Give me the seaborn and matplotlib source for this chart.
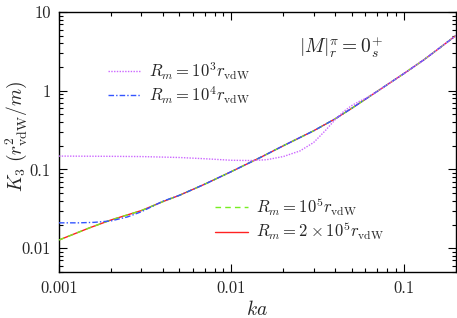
"""
Three-body recombination rate K3 vs ka for several cutoff radii R_m
"""
import numpy as np
import pandas as pd
import matplotlib
matplotlib.use("Agg")
import matplotlib.pyplot as plt
import seaborn as sns
from matplotlib.ticker import FixedLocator, FixedFormatter, LogLocator, NullFormatter

# values
ka_main = [0.001, 0.0015, 0.002, 0.003, 0.004, 0.005, 0.007, 0.01, 0.015, 0.02,
           0.03, 0.04, 0.05, 0.07, 0.1, 0.13, 0.16, 0.2]
k3_main = [0.0127, 0.0181, 0.0228, 0.030, 0.039, 0.047, 0.065, 0.094, 0.145, 0.20,
           0.31, 0.44, 0.60, 0.98, 1.65, 2.45, 3.45, 5.0]

ka_1e3 = [0.001, 0.002, 0.003, 0.005, 0.007, 0.01, 0.013, 0.016, 0.02, 0.025,
          0.03, 0.035, 0.04, 0.045, 0.05, 0.055, 0.06, 0.07, 0.1, 0.13, 0.16, 0.2]
k3_1e3 = [0.148, 0.147, 0.146, 0.142, 0.137, 0.131, 0.130, 0.133, 0.146, 0.172,
          0.22, 0.31, 0.43, 0.55, 0.65, 0.73, 0.80, 0.98, 1.65, 2.45, 3.45, 5.0]

ka_1e4 = [0.001, 0.0013, 0.0016, 0.002, 0.0025, 0.003, 0.004, 0.005, 0.007, 0.01,
          0.015, 0.02, 0.03, 0.04, 0.05, 0.07, 0.1, 0.13, 0.16, 0.2]
k3_1e4 = [0.0210, 0.0210, 0.0213, 0.0222, 0.0250, 0.0290, 0.0395, 0.047, 0.065, 0.094,
          0.145, 0.20, 0.31, 0.44, 0.60, 0.98, 1.65, 2.45, 3.45, 5.0]

labels = [r"$R_m = 10^3 r_{\rm vdW}$", r"$R_m = 10^4 r_{\rm vdW}$",
          r"$R_m = 10^5 r_{\rm vdW}$", r"$R_m = 2\times10^5 r_{\rm vdW}$"]

x_ticks = [0.001, 0.01, 0.1]
x_tick_labels = ["0.001", "0.01", "0.1"]
y_ticks = [0.01, 0.1, 1, 10]
y_tick_labels = ["0.01", "0.1", "1", "10"]

sns.set_style("ticks")
plt.rcParams["font.family"] = ["cmr10", "DejaVu Serif"]
plt.rcParams["mathtext.fontset"] = "cm"
plt.rcParams["axes.formatter.use_mathtext"] = True
plt.rcParams["xtick.direction"] = "in"
plt.rcParams["ytick.direction"] = "in"

fig = plt.figure(figsize=(4.57, 3.18), dpi=100)
ax = fig.add_axes([0.129, 0.145, 0.868, 0.817])

styles = [
    (ka_1e3, k3_1e3, "#cc66ff", (0, (1, 1)), 1.0),
    (ka_1e4, k3_1e4, "#3355ff", (0, (4, 1.5, 1, 1.5)), 1.0),
    (ka_main, k3_main, "#77ee22", (0, (4, 3)), 1.0),
    (ka_main, k3_main, "#ff2222", "-", 1.0),
]
handles = [None] * 4
# draw in reverse so the sparse styles sit on top, as in the reference
for i in range(3, -1, -1):
    xs, ys, col, ls, lw = styles[i]
    df = pd.DataFrame({"ka": xs, "K3": ys})
    sns.lineplot(data=df, x="ka", y="K3", ax=ax, color=col, lw=lw,
                 linestyle=ls, label=labels[i], legend=False, zorder=2 + (3 - i))
    handles[i] = ax.lines[-1]

ax.set_xscale("log")
ax.set_yscale("log")
ax.set_xlim(0.001, 0.2)
ax.set_ylim(0.005, 10)

ax.xaxis.set_major_locator(FixedLocator(x_ticks))
ax.xaxis.set_major_formatter(FixedFormatter(x_tick_labels))
ax.yaxis.set_major_locator(FixedLocator(y_ticks))
ax.yaxis.set_major_formatter(FixedFormatter(y_tick_labels))
ax.xaxis.set_minor_locator(LogLocator(base=10, subs=np.arange(2, 10)))
ax.yaxis.set_minor_locator(LogLocator(base=10, subs=np.arange(2, 10)))
ax.xaxis.set_minor_formatter(NullFormatter())
ax.yaxis.set_minor_formatter(NullFormatter())
ax.tick_params(which="both", top=True, right=True, direction="in",
               labelsize=12, pad=6, color="black", width=0.8)
ax.tick_params(which="major", length=6)
ax.tick_params(which="minor", length=3)
for sp in ax.spines.values():
    sp.set_color("black")
    sp.set_linewidth(1.0)

ax.set_xlabel(r"$ka$", fontsize=14, labelpad=3)
ax.set_ylabel(r"$K_3\ (r_{\rm vdW}^2/m)$", fontsize=14)
ax.yaxis.set_label_coords(-0.075, 0.52)

ax.text(0.71, 0.865, r"$|M|_r^{\pi} = 0_s^{+}$", transform=ax.transAxes,
        fontsize=14, ha="center", va="center")

leg_kw = dict(frameon=False, fontsize=12, handlelength=2.0, handletextpad=0.45,
              labelspacing=0.15, borderpad=0, borderaxespad=0)
leg1 = ax.legend(handles=handles[:2], labels=labels[:2], loc="upper left",
                 bbox_to_anchor=(0.123, 0.815), **leg_kw)
ax.add_artist(leg1)
ax.legend(handles=handles[2:], labels=labels[2:], loc="upper left",
          bbox_to_anchor=(0.393, 0.295), **leg_kw)

fig.savefig("out.png", dpi=100)
